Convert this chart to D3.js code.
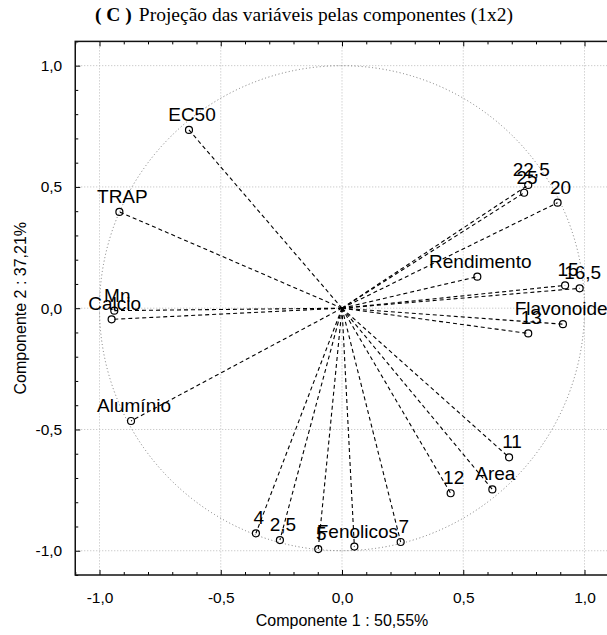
<!DOCTYPE html>
<html><head><meta charset="utf-8">
<script src="https://cdn.jsdelivr.net/npm/d3@7"></script>
<style>body{margin:0;background:#fff}svg{display:block}</style>
</head><body>
<svg id="chart" width="607" height="635"></svg>
<script>
const labels = ["EC50","TRAP","Mn","Calcio","Alumínio","Rendimento","22,5","25","20","15","16,5","Flavonoides","13","11","12","Area","4","2,5","5","Fenolicos","7"];
const pc1 = [-0.631,-0.918,-0.939,-0.950,-0.870,0.558,0.768,0.751,0.889,0.920,0.980,0.911,0.768,0.689,0.448,0.620,-0.355,-0.256,-0.098,0.051,0.242];
const pc2 = [0.735,0.397,-0.010,-0.046,-0.465,0.130,0.508,0.476,0.435,0.094,0.082,-0.066,-0.104,-0.615,-0.763,-0.747,-0.928,-0.956,-0.993,-0.983,-0.964];
const majorTicks = [-1.0,-0.5,0.0,0.5,1.0];
const tickLabels = ["-1,0","-0,5","0,0","0,5","1,0"];
const title = "Projeção das variáveis pelas componentes (1x2)";
const xTitle = "Componente 1 : 50,55%";
const yTitle = "Componente 2 : 37,21%";

const svg = d3.select("#chart");
const L = 75.25, R = 608.75, T = 41.4, B = 575;
const x = d3.scaleLinear().domain([-1.1,1.1]).range([L,R]);
const y = d3.scaleLinear().domain([-1.1,1.1]).range([B,T]);
const minorTicks = d3.range(-11,12).map(d=>d/10).filter(v=>Math.abs(Math.round(v*10)%5)!==0);
const fmt = d => tickLabels[majorTicks.indexOf(d)];

// grid
const g = svg.append("g");
majorTicks.forEach(t=>{
  g.append("line").attr("x1",x(t)).attr("x2",x(t)).attr("y1",T).attr("y2",B)
   .attr("stroke","#bbb").attr("stroke-width",1).attr("stroke-dasharray","1,2");
  g.append("line").attr("y1",y(t)).attr("y2",y(t)).attr("x1",L).attr("x2",R)
   .attr("stroke","#bbb").attr("stroke-width",1).attr("stroke-dasharray","1,2");
});
// unit circle
svg.append("circle").attr("cx",x(0)).attr("cy",y(0)).attr("r",x(1)-x(0))
  .attr("fill","none").attr("stroke","#777").attr("stroke-width",1).attr("stroke-dasharray","1,2.5");

// vectors
const data = labels.map((l,i)=>({l, a:pc1[i], b:pc2[i]}));
svg.append("g").selectAll("line").data(data).join("line")
  .attr("x1",x(0)).attr("y1",y(0)).attr("x2",d=>x(d.a)).attr("y2",d=>y(d.b))
  .attr("stroke","#000").attr("stroke-width",1.1).attr("stroke-dasharray","4,3");
svg.append("g").selectAll("circle").data(data).join("circle")
  .attr("cx",d=>x(d.a)).attr("cy",d=>y(d.b)).attr("r",3.5)
  .attr("fill","#fff").attr("fill-opacity",0).attr("stroke","#000").attr("stroke-width",1.2);
svg.append("g").selectAll("text").data(data).join("text")
  .attr("x",d=>x(d.a)+3).attr("y",d=>y(d.b)-9).attr("text-anchor","middle")
  .attr("font-family","Liberation Sans, Arial, sans-serif").attr("font-size",19)
  .attr("fill","#000").text(d=>d.l);

// axes (inward ticks)
function styleAxis(sel){
  sel.select(".domain").remove();
  sel.selectAll("line").attr("stroke","#000");
  sel.selectAll("text").attr("font-family","Liberation Sans, Arial, sans-serif").attr("font-size",15.5).attr("fill","#000");
}
svg.append("g").attr("transform",`translate(0,${B})`)
  .call(d3.axisBottom(x).tickValues(majorTicks).tickFormat(fmt).tickSize(-5).tickPadding(17)).call(styleAxis);
svg.append("g").attr("transform",`translate(0,${B})`)
  .call(d3.axisBottom(x).tickValues(minorTicks).tickFormat("").tickSize(-3)).call(styleAxis);
svg.append("g").attr("transform",`translate(${L},0)`)
  .call(d3.axisLeft(y).tickValues(majorTicks).tickFormat(fmt).tickSize(-5).tickPadding(13)).call(styleAxis);
svg.append("g").attr("transform",`translate(${L},0)`)
  .call(d3.axisLeft(y).tickValues(minorTicks).tickFormat("").tickSize(-3)).call(styleAxis);
svg.append("g").attr("transform",`translate(0,${T})`)
  .call(d3.axisTop(x).tickValues(majorTicks).tickFormat("").tickSize(-5)).call(styleAxis);
svg.append("g").attr("transform",`translate(0,${T})`)
  .call(d3.axisTop(x).tickValues(minorTicks).tickFormat("").tickSize(-3)).call(styleAxis);

// frame
svg.append("rect").attr("x",L).attr("y",T).attr("width",R-L).attr("height",B-T)
  .attr("fill","none").attr("stroke","#111").attr("stroke-width",1.5);

// titles
const tt = svg.append("text").attr("x",95).attr("y",21)
  .attr("font-family","Liberation Serif, Times New Roman, serif").attr("font-size",19.5).attr("fill","#000");
tt.append("tspan").attr("font-weight","bold").text("( C )");
tt.append("tspan").attr("dx",7).text(title);
svg.append("text").attr("x",x(0)).attr("y",626).attr("text-anchor","middle")
  .attr("font-family","Liberation Sans, Arial, sans-serif").attr("font-size",16).text(xTitle);
svg.append("text").attr("transform",`translate(26,${y(0)}) rotate(-90)`).attr("text-anchor","middle")
  .attr("font-family","Liberation Sans, Arial, sans-serif").attr("font-size",16).text(yTitle);
</script>
</body></html>
